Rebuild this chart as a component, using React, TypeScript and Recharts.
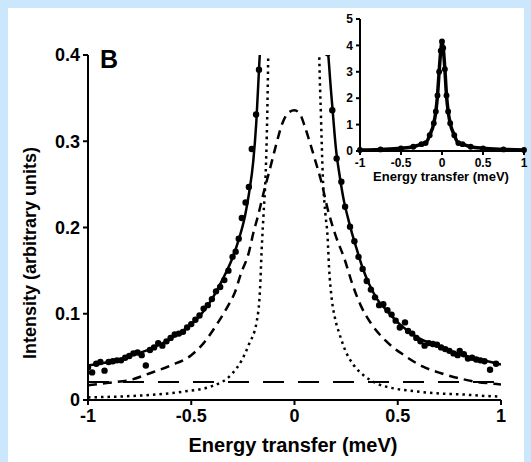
import { ComposedChart, Line, Scatter, XAxis, YAxis } from "recharts";

const FONT = '"Liberation Sans", Arial, Helvetica, sans-serif';
const INK = "#000";

const X_TICKS = [-1, -0.5, 0, 0.5, 1];
const Y_TICKS = [0, 0.1, 0.2, 0.3, 0.4];
const INSET_Y_TICKS = [0, 1, 2, 3, 4, 5];

// measured points (dots)
const pointX = [
  -1.0, -0.98, -0.96, -0.94, -0.92, -0.9, -0.88, -0.86, -0.84, -0.82, -0.8, -0.78, -0.76, -0.74,
  -0.72, -0.7, -0.68, -0.66, -0.64, -0.62, -0.6, -0.58, -0.56, -0.54, -0.52, -0.5, -0.48, -0.46,
  -0.44, -0.42, -0.4, -0.38, -0.36, -0.34, -0.32, -0.3, -0.285, -0.27, -0.255, -0.237, -0.221,
  -0.207, -0.186, -0.172,
  0.161, 0.183, 0.204, 0.227, 0.245, 0.269, 0.29, 0.31, 0.33, 0.35, 0.37, 0.39, 0.41, 0.43, 0.45,
  0.47, 0.49, 0.51, 0.535, 0.55, 0.57, 0.59, 0.61, 0.63, 0.65, 0.67, 0.69, 0.71, 0.73, 0.75, 0.77,
  0.79, 0.8, 0.82, 0.84, 0.86, 0.88, 0.9, 0.92, 0.947, 0.976,
];
const pointY = [
  0.038, 0.032, 0.042, 0.044, 0.034, 0.044, 0.045, 0.046, 0.046, 0.049, 0.051, 0.054, 0.055, 0.052,
  0.04, 0.058, 0.061, 0.066, 0.063, 0.068, 0.072, 0.076, 0.077, 0.079, 0.084, 0.088, 0.093, 0.098,
  0.106, 0.11, 0.117, 0.126, 0.131, 0.139, 0.15, 0.166, 0.172, 0.187, 0.211, 0.229, 0.247,
  0.291, 0.331, 0.383,
  0.402, 0.336, 0.28, 0.253, 0.224, 0.201, 0.184, 0.166, 0.152, 0.138, 0.128, 0.119, 0.11, 0.111,
  0.104, 0.099, 0.092, 0.084, 0.09, 0.08, 0.077, 0.072, 0.068, 0.063, 0.066, 0.065, 0.064, 0.061,
  0.059, 0.057, 0.054, 0.052, 0.057, 0.053, 0.048, 0.049, 0.047, 0.046, 0.045, 0.035, 0.042,
];

// total fit (solid)
const fitX = [
  -1, -0.9, -0.8, -0.7, -0.6, -0.5, -0.45, -0.4, -0.35, -0.3, -0.27, -0.24, -0.22, -0.2, -0.185,
  -0.172, -0.16, -0.12, -0.06, 0, 0.06, 0.12, 0.155, 0.17, 0.185, 0.2, 0.22, 0.24, 0.26, 0.28, 0.3,
  0.33, 0.36, 0.4, 0.45, 0.5, 0.55, 0.6, 0.7, 0.8, 0.9, 1,
];
const fitY = [
  0.04, 0.044, 0.051, 0.059, 0.071, 0.088, 0.1, 0.117, 0.139, 0.165, 0.186, 0.213, 0.24, 0.276,
  0.322, 0.383, 0.44, 0.9, 2.5, 4.1, 2.5, 0.9, 0.44, 0.38, 0.335, 0.293, 0.258, 0.23, 0.21, 0.192,
  0.176, 0.153, 0.135, 0.117, 0.103, 0.09, 0.08, 0.072, 0.062, 0.053, 0.047, 0.041,
];

// broad component (dashed)
const broadX = [
  -1, -0.9, -0.8, -0.7, -0.6, -0.5, -0.44, -0.37, -0.32, -0.29, -0.26, -0.22, -0.2, -0.175, -0.15,
  -0.12, -0.09, -0.06, -0.03, 0, 0.03, 0.05, 0.075, 0.105, 0.13, 0.16, 0.2, 0.24, 0.285, 0.32,
  0.37, 0.44, 0.53, 0.62, 0.71, 0.8, 0.88, 0.96, 1,
];
const broadY = [
  0.017, 0.02, 0.023, 0.031, 0.04, 0.052, 0.066, 0.09, 0.11, 0.124, 0.146, 0.172, 0.193, 0.215,
  0.24, 0.267, 0.295, 0.32, 0.333, 0.336, 0.33, 0.317, 0.298, 0.274, 0.253, 0.222, 0.19, 0.165,
  0.131, 0.11, 0.089, 0.069, 0.052, 0.039, 0.031, 0.025, 0.021, 0.019, 0.018,
];

// narrow component (dotted)
const narrowX = [
  -1, -0.85, -0.69, -0.53, -0.4, -0.3, -0.256, -0.22, -0.183, -0.167, -0.159, -0.15, -0.14, -0.132,
  -0.127, -0.1, 0, 0.1, 0.12, 0.128, 0.137, 0.15, 0.16, 0.167, 0.18, 0.196, 0.22, 0.245, 0.285,
  0.333, 0.4, 0.48, 0.575, 0.69, 0.8, 0.93, 1,
];
const narrowY = [
  0.003, 0.004, 0.006, 0.01, 0.016, 0.031, 0.046, 0.065, 0.091, 0.128, 0.174, 0.215, 0.26, 0.33,
  0.402, 0.9, 1.4, 0.9, 0.4, 0.33, 0.26, 0.215, 0.19, 0.155, 0.118, 0.095, 0.075, 0.058, 0.041,
  0.029, 0.019, 0.0135, 0.0104, 0.0077, 0.0066, 0.0046, 0.004,
];

// flat background (long dashes)
const bgX = [-1, 1];
const bgY = [0.021, 0.021];

// inset: full scale
const insetX = [
  -1, -0.75, -0.5, -0.35, -0.25, -0.2, -0.15, -0.1, -0.075, -0.055, -0.035, -0.015, 0, 0.015,
  0.035, 0.055, 0.075, 0.1, 0.15, 0.2, 0.25, 0.35, 0.5, 0.75, 1,
];
const insetY = [
  0.04, 0.06, 0.1, 0.16, 0.26, 0.3, 0.6, 1.05, 1.5, 2.1, 3.0, 3.8, 4.15, 3.9, 3.1, 2.1, 1.5, 1.05,
  0.6, 0.3, 0.26, 0.16, 0.1, 0.06, 0.04,
];

const zip = (xs: number[], ys: number[]) => xs.map((x, i) => ({ x, y: ys[i] }));

const points = zip(pointX, pointY);
const fit = zip(fitX, fitY);
const broad = zip(broadX, broadY);
const narrow = zip(narrowX, narrowY);
const bg = zip(bgX, bgY);
const inset = zip(insetX, insetY);

const tickStyle = { fill: INK, fontFamily: FONT, fontWeight: 700, fontSize: 18 };
const insetTick = { fill: INK, fontFamily: FONT, fontWeight: 700, fontSize: 12 };
const axisLine = { stroke: INK, strokeWidth: 2 };

const Dot = (p: any) => <circle cx={p.cx} cy={p.cy} r={3.2} fill={INK} />;

export default function App() {
  return (
    <div style={{ position: "fixed", left: 0, top: 0, width: 531, height: 462, background: "#cbe7fc" }}>
      <div style={{ position: "absolute", left: 8, top: 8, width: 516, height: 454, background: "#fff" }} />

      <div style={{ position: "absolute", left: 0, top: 0 }}>
        <ComposedChart width={531} height={462} margin={{ top: 55, right: 30, bottom: 32, left: 0 }}>
          <XAxis
            dataKey="x"
            type="number"
            domain={[-1, 1]}
            ticks={X_TICKS}
            allowDataOverflow
            height={30}
            axisLine={axisLine}
            tickLine={axisLine}
            tickSize={5}
            tickMargin={4}
            tick={tickStyle}
          />
          <YAxis
            dataKey="y"
            type="number"
            domain={[0, 0.4]}
            ticks={Y_TICKS}
            allowDataOverflow
            width={88}
            axisLine={axisLine}
            tickLine={axisLine}
            tickSize={5}
            tickMargin={3}
            tick={tickStyle}
          />
          <Line data={bg} dataKey="y" type="linear" stroke={INK} strokeWidth={2} strokeDasharray="21 14" dot={false} isAnimationActive={false} />
          <Line data={narrow} dataKey="y" type="monotoneX" stroke={INK} strokeWidth={2.5} strokeDasharray="2.5 4" dot={false} isAnimationActive={false} />
          <Line data={broad} dataKey="y" type="monotoneX" stroke={INK} strokeWidth={2.5} strokeDasharray="9 6" dot={false} isAnimationActive={false} />
          <Line data={fit} dataKey="y" type="monotoneX" stroke={INK} strokeWidth={2.5} dot={false} isAnimationActive={false} />
          <Scatter data={points} dataKey="y" fill={INK} shape={Dot} isAnimationActive={false} />
        </ComposedChart>
      </div>

      <div style={{ position: "absolute", left: 300, top: 0 }}>
        <ComposedChart width={231} height={190} margin={{ top: 19, right: 7, bottom: 19, left: 0 }}>
          <XAxis
            dataKey="x"
            type="number"
            domain={[-1, 1]}
            ticks={X_TICKS}
            height={20}
            axisLine={axisLine}
            tickLine={axisLine}
            tickSize={4}
            tickMargin={3}
            tick={insetTick}
          />
          <YAxis
            dataKey="y"
            type="number"
            domain={[0, 5]}
            ticks={INSET_Y_TICKS}
            width={60}
            axisLine={axisLine}
            tickLine={axisLine}
            tickSize={4}
            tickMargin={3}
            tick={insetTick}
          />
          <Line
            data={inset}
            dataKey="y"
            type="monotoneX"
            stroke={INK}
            strokeWidth={3.5}
            dot={{ r: 1.2, fill: INK, stroke: INK }}
            isAnimationActive={false}
          />
        </ComposedChart>
      </div>

      <svg width={531} height={462} style={{ position: "absolute", left: 0, top: 0, pointerEvents: "none" }}>
        <text x={100} y={68} fontFamily={FONT} fontWeight={700} fontSize={25} fill={INK}>
          B
        </text>
        <text x={293} y={452} textAnchor="middle" fontFamily={FONT} fontWeight={700} fontSize={20} fill={INK}>
          Energy transfer (meV)
        </text>
        <text
          x={36}
          y={253}
          transform="rotate(-90 36 253)"
          textAnchor="middle"
          fontFamily={FONT}
          fontWeight={700}
          fontSize={18}
          fill={INK}
        >
          Intensity (arbitrary units)
        </text>
        <text x={441} y={181} textAnchor="middle" fontFamily={FONT} fontWeight={700} fontSize={13} fill={INK}>
          Energy transfer (meV)
        </text>
      </svg>
    </div>
  );
}
